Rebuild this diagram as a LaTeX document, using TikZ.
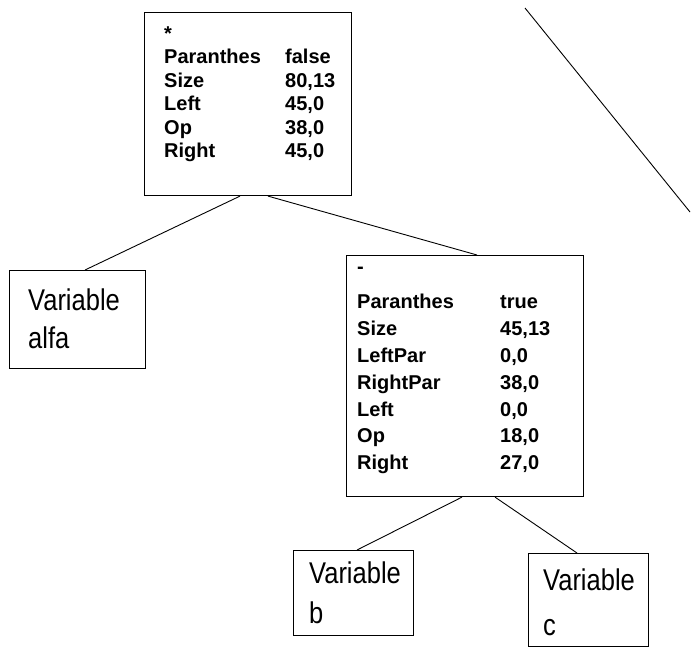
\documentclass[tikz,border=0pt]{standalone}
\usepackage{fontspec}
\setmainfont{Liberation Sans}
\newfontfamily\varfont[FakeStretch=0.85]{Liberation Sans}

\newlength{\fieldwidth}
\newcommand{\field}[2]{\makebox[\fieldwidth][l]{#1}#2}

\begin{document}
\begin{tikzpicture}[x=1pt, y=-1pt,
    box/.style={draw, line width=1.1pt, inner sep=0pt, anchor=north west},
    fields/.style={anchor=base west, inner sep=0pt, align=left, text width=230pt,
        font=\fontseries{b}\fontsize{20}{#1}\selectfont},
    varname/.style={anchor=base west, inner sep=0pt, align=left, text width=110pt,
        font=\varfont\fontsize{30}{#1}\selectfont},
    edge/.style={line width=0.9pt}]
    \useasboundingbox (0,0) rectangle (693,648);

    % the * node and its fields
    \node[box, minimum width=207pt, minimum height=183pt] (mul) at (144,12) {};
    \node[fields=23.5] (mul-text) at (164,40) {\setlength{\fieldwidth}{121pt}%
        *\\
        \field{Paranthes}{false}\\
        \field{Size}{80,13}\\
        \field{Left}{45,0}\\
        \field{Op}{38,0}\\
        \field{Right}{45,0}};

    % the - node, inside parentheses
    \node[box, minimum width=237pt, minimum height=241pt] (sub) at (346,255) {};
    \node[fields=26.8] (sub-text) at (357,282) {\setlength{\fieldwidth}{143pt}%
        \raisebox{9pt}{-}\\
        \field{Paranthes}{true}\\
        \field{Size}{45,13}\\
        \field{LeftPar}{0,0}\\
        \field{RightPar}{38,0}\\
        \field{Left}{0,0}\\
        \field{Op}{18,0}\\
        \field{Right}{27,0}};

    % leaves
    \node[box, minimum width=136pt, minimum height=98pt] (alfa) at (9,270) {};
    \node[varname=38] (alfa-text) at (28,310) {Variable\\alfa};
    \node[box, minimum width=120pt, minimum height=85pt] (b) at (293,550) {};
    \node[varname=40] (b-text) at (309,583) {Variable\\b};
    \node[box, minimum width=120pt, minimum height=93pt] (c) at (528,553) {};
    \node[varname=45] (c-text) at (543,590) {Variable\\c};

    % tree edges
    \draw[edge] ([xshift=96pt]mul.south west) -- ([xshift=76pt]alfa.north west);
    \draw[edge] ([xshift=124pt]mul.south west) -- ([xshift=131pt]sub.north west);
    \draw[edge] ([xshift=116pt]sub.south west) -- ([xshift=64pt]b.north west);
    \draw[edge] ([xshift=149pt]sub.south west) -- ([xshift=49pt]c.north west);

    % stray stroke top right
    \coordinate (s1) at (525,8);
    \coordinate (s2) at (690,212);
    \draw[edge] (s1) -- (s2);
\end{tikzpicture}
\end{document}
